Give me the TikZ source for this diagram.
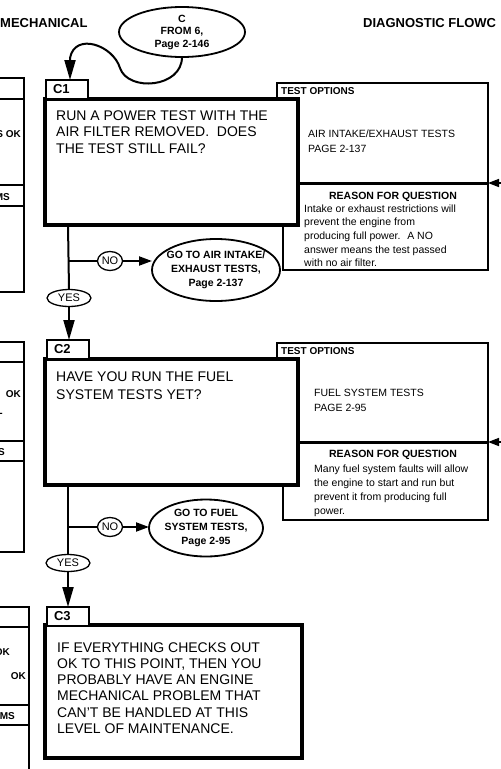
\documentclass[tikz,border=0pt]{standalone}
\usepackage{fontspec}
\setmainfont{Liberation Sans}
\usetikzlibrary{arrows.meta,shapes.geometric}
\begin{document}
\begin{tikzpicture}[x=1pt,y=-1pt,
 mainbox/.style={rectangle, draw, line width=3.6pt, fill=white, inner sep=0pt, outer sep=0pt, anchor=north west},
 tabbox/.style={rectangle, draw, line width=1.3pt, fill=white, inner sep=0pt, outer sep=0pt, anchor=north west, minimum width=42pt, minimum height=19pt, text width=28pt, align=left, font=\fontsize{13}{13}\selectfont\bfseries},
 optbox/.style={rectangle, draw, line width=2pt, fill=white, inner sep=0pt, outer sep=0pt, anchor=north west},
 reasonbox/.style={rectangle, draw, line width=1.2pt, fill=white, inner sep=0pt, outer sep=0pt, anchor=north west},
 oval/.style={ellipse, draw, line width=1.8pt, fill=white, inner sep=0pt, outer sep=0pt},
 answer/.style={ellipse, draw, line width=1.3pt, fill=white, inner sep=0pt, outer sep=0pt, font=\fontsize{11}{11}\selectfont},
 conn/.style={line width=2pt},
 bigtip/.style={-{Triangle[length=20pt,width=11pt]}},
 notip/.style={-{Triangle[length=13pt,width=9pt]}},
 sidetip/.style={line width=1.5pt,-{Triangle[length=11pt,width=8pt]}},
 divider/.style={line width=3pt},
 edgebox/.style={line width=1.2pt},
 headtext/.style={inner sep=0pt, anchor=base west, font=\fontsize{13}{15}\selectfont\bfseries},
 maintext/.style={inner sep=0pt, anchor=base west, align=left, font=\fontsize{14}{16.5}\selectfont},
 smallbold/.style={inner sep=0pt, font=\fontsize{10.5}{14}\selectfont\bfseries},
 optlabel/.style={inner sep=0pt, anchor=base west, font=\fontsize{10}{12}\selectfont\bfseries},
 opttext/.style={inner sep=0pt, anchor=base west, align=left, font=\fontsize{10.5}{15}\selectfont},
 reasontext/.style={inner sep=0pt, anchor=base west, align=left, font=\fontsize{10.5}{13.7}\selectfont},
 ovaltext/.style={inner sep=0pt, align=center, font=\fontsize{10.5}{14}\selectfont\bfseries},
 edgetext/.style={inner sep=0pt, anchor=base east, font=\fontsize{10}{12}\selectfont\bfseries}
]
\useasboundingbox (0,0) rectangle (501,769);
\clip (0,0) rectangle (501,769);
\fill[white] (0,0) rectangle (501,769);

% page headers
\node[headtext] (hl) at (0,27) {MECHANICAL};
\node[headtext] (hr) at (363,27) {DIAGNOSTIC FLOWC};

% partial boxes at left edge
\draw[edgebox] (-5,78) rectangle (24,292);
\draw[edgebox] (-5,99) -- (24,99) (-5,185) -- (24,185) (-5,206) -- (24,206);
\node[edgetext] (l1a) at (21,137) {S OK};
\node[edgetext] (l1b) at (10,200) {MS};
\draw[edgebox] (-5,342) rectangle (24,552);
\draw[edgebox] (-5,362) -- (24,362) (-5,441) -- (24,441) (-5,461) -- (24,461);
\node[edgetext] (l2a) at (21,397) {OK};
\node[edgetext] (l2b) at (3,416) {-};
\node[edgetext] (l2c) at (5,455) {S};
\draw[edgebox] (-5,607) rectangle (29,780);
\draw[edgebox] (-5,627) -- (29,627) (-5,705) -- (29,705) (-5,725) -- (29,725);
\node[edgetext] (l3a) at (10,655) {OK};
\node[edgetext] (l3b) at (26,679) {OK};
\node[edgetext] (l3c) at (15,719) {MS};

% ---------- block C1 ----------
\node[optbox, minimum width=211pt, minimum height=100pt] (to1) at (277,83) {};
\node[reasonbox, minimum width=205pt, minimum height=87pt] (r1) at (283,183) {};
\node[mainbox, minimum width=253pt, minimum height=126pt] (c1) at (45,99) {};
\draw[divider] (c1.east |- to1.south) -- (to1.south east);
\coordinate (e1) at (503,183);
\draw[sidetip] (e1) -- (to1.south east);
\node[tabbox] (t1) at (46,80) {C1};
\node[maintext] (c1t) at (56,153) {RUN A POWER TEST WITH THE\\AIR FILTER REMOVED.~ DOES\\THE TEST STILL FAIL?};
\node[optlabel] (to1l) at (281,94.5) {TEST OPTIONS};
\node[opttext] (to1t) at (308,152) {AIR INTAKE/EXHAUST TESTS\\PAGE 2-137};
\node[smallbold, anchor=base] (r1h) at (393,199) {REASON FOR QUESTION};
\node[reasontext] (r1t) at (304,266.8) {Intake or exhaust restrictions will\\prevent the engine from\\producing full power.~ A NO\\answer means the test passed\\with no air filter.};

% entry oval
\node[oval, minimum width=126pt, minimum height=50pt, font=\fontsize{10.5}{12.5}\selectfont\bfseries, align=center] (oc) at (182,32) {C\\FROM 6,\\Page 2-146};
\coordinate (cv) at (70,58);
\draw[conn, bigtip] (oc.south) .. controls (182,88) and (128,92) .. (120,68) .. controls (113,45) and (75,32) .. (cv) -- (cv |- t1.north);

% branch 1
\coordinate (j1) at (68,261);
\node[answer, minimum width=25pt, minimum height=19pt] (no1) at (110,261) {NO};
\node[oval, minimum width=128pt, minimum height=62pt] (go1) at (216,270) {};
\node[ovaltext] (go1t) at (go1.center) {GO TO AIR INTAKE/\\EXHAUST TESTS,\\Page 2-137};
\node[answer, minimum width=44pt, minimum height=17pt] (yes1) at (69,298) {YES};
\draw[conn] (c1.south west -| j1) -- (yes1.north);
\draw[conn] (j1) -- (no1.west);
\draw[conn, notip] (no1.east) -- (no1.east -| go1.west);

% ---------- block C2 ----------
\node[optbox, minimum width=211pt, minimum height=99pt] (to2) at (277,343) {};
\node[reasonbox, minimum width=205pt, minimum height=78pt] (r2) at (283,442) {};
\node[mainbox, minimum width=253pt, minimum height=126pt] (c2) at (45,359) {};
\draw[divider] (c2.east |- to2.south) -- (to2.south east);
\coordinate (e2) at (503,442);
\draw[sidetip] (e2) -- (to2.south east);
\node[tabbox] (t2) at (47,340) {C2};
\draw[conn, bigtip] (yes1.south) -- (yes1.south |- t2.north);
\node[maintext, font=\fontsize{14}{18}\selectfont] (c2t) at (56,399) {HAVE YOU RUN THE FUEL\\SYSTEM TESTS YET?};
\node[optlabel] (to2l) at (281,354) {TEST OPTIONS};
\node[opttext] (to2t) at (314,411) {FUEL SYSTEM TESTS\\PAGE 2-95};
\node[smallbold, anchor=base] (r2h) at (393,457) {REASON FOR QUESTION};
\node[reasontext, font=\fontsize{10.5}{14}\selectfont] (r2t) at (314,514) {Many fuel system faults will allow\\the engine to start and run but\\prevent it from producing full\\power.};

% branch 2
\coordinate (j2) at (68,527);
\node[answer, minimum width=25pt, minimum height=19pt] (no2) at (110,527) {NO};
\node[oval, minimum width=114pt, minimum height=57pt] (go2) at (206,528) {};
\node[ovaltext] (go2t) at (go2.center) {GO TO FUEL\\SYSTEM TESTS,\\Page 2-95};
\node[answer, minimum width=44pt, minimum height=17pt] (yes2) at (68,563) {YES};
\draw[conn] (c2.south west -| j2) -- (yes2.north);
\draw[conn] (j2) -- (no2.west);
\draw[conn, notip] (no2.east) -- (no2.east -| go2.west);

% ---------- block C3 ----------
\node[mainbox, minimum width=257pt, minimum height=133pt] (c3) at (45,625) {};
\node[tabbox] (t3) at (47,607) {C3};
\draw[conn, bigtip] (yes2.south) -- (yes2.south |- t3.north);
\node[maintext, font=\fontsize{14}{16.3}\selectfont] (c3t) at (57,733.5) {IF EVERYTHING CHECKS OUT\\OK TO THIS POINT, THEN YOU\\PROBABLY HAVE AN ENGINE\\MECHANICAL PROBLEM THAT\\CAN'T BE HANDLED AT THIS\\LEVEL OF MAINTENANCE.};
\end{tikzpicture}
\end{document}
